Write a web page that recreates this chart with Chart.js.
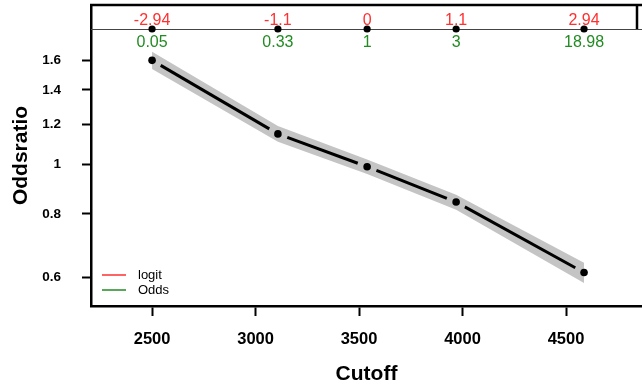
<!DOCTYPE html>
<html>
<head>
<meta charset="utf-8">
<script src="https://cdn.jsdelivr.net/npm/chart.js@4/dist/chart.umd.min.js"></script>
<style>
    html, body { margin: 0; padding: 0; background: #fff; }
    #wrap { width: 642px; height: 389px; }
</style>
</head>
<body>
<div id="wrap"><canvas id="or-chart" width="642" height="389"></canvas></div>
<script>
// Données
const cutoffs    = [2500, 3108, 3539, 3969, 4587];
const oddsRatio  = [1.60, 1.148, 0.99, 0.844, 0.614];
const upperBand  = [1.664, 1.190, 1.023, 0.872, 0.642];
const lowerBand  = [1.538, 1.108, 0.958, 0.815, 0.586];
const logitLabels = ['-2.94', '-1.1', '0', '1.1', '2.94'];
const oddsLabels  = ['0.05', '0.33', '1', '3', '18.98'];
const xTicks = [2500, 3000, 3500, 4000, 4500];
const yTicks = [0.6, 0.8, 1, 1.2, 1.4, 1.6];
const legendLabels = ['logit', 'Odds'];

const RED   = '#ff3030';
const GREEN = '#228b22';
const BAND  = '#c4c4c4';
const FONT  = "'Liberation Sans', Arial, Helvetica, sans-serif";

Chart.defaults.font.family = FONT;
Chart.defaults.color = '#000';

const toXY = (vals) => vals.map((v, i) => ({ x: cutoffs[i], y: v }));

/**
 * Cadre, ligne brisée avec trous (type "b"), bandeau logit/odds et légende.
 */
const decor = {
    id: 'decor',
    afterDatasetsDraw(chart) {
        const { ctx } = chart;
        const pts = chart.getDatasetMeta(2).data;
        const gap = 10;
        ctx.save();
        ctx.strokeStyle = '#000';
        ctx.lineWidth = 3;
        ctx.lineCap = 'butt';
        for (let i = 0; i < pts.length - 1; i++) {
            const p = pts[i], q = pts[i + 1];
            const dx = q.x - p.x, dy = q.y - p.y;
            const len = Math.hypot(dx, dy);
            const ux = dx / len, uy = dy / len;
            ctx.beginPath();
            ctx.moveTo(p.x + ux * gap, p.y + uy * gap);
            ctx.lineTo(q.x - ux * gap, q.y - uy * gap);
            ctx.stroke();
        }
        ctx.restore();
    },
    afterDraw(chart) {
        const { ctx, chartArea: a, scales: { x } } = chart;
        const W = chart.width;
        const stripY = a.top + 24;
        ctx.save();

        // cadre haut
        ctx.strokeStyle = '#000';
        ctx.lineWidth = 2.5;
        ctx.beginPath();
        ctx.moveTo(a.left - 1, a.top);
        ctx.lineTo(W, a.top);
        ctx.moveTo(W - 5, a.top);
        ctx.lineTo(W - 5, stripY);
        ctx.stroke();

        // bandeau
        ctx.strokeStyle = '#444';
        ctx.lineWidth = 1;
        ctx.beginPath();
        ctx.moveTo(a.left, stripY + 0.5);
        ctx.lineTo(W, stripY + 0.5);
        ctx.stroke();

        ctx.font = '16px ' + FONT;
        ctx.textAlign = 'center';
        ctx.textBaseline = 'alphabetic';
        cutoffs.forEach((c, i) => {
            const px = x.getPixelForValue(c);
            ctx.fillStyle = '#000';
            ctx.beginPath();
            ctx.arc(px, stripY, 3.6, 0, Math.PI * 2);
            ctx.fill();
            ctx.fillStyle = RED;
            ctx.fillText(logitLabels[i], px, stripY - 4);
            ctx.fillStyle = GREEN;
            ctx.fillText(oddsLabels[i], px, stripY + 18);
        });

        // légende
        const colors = [RED, GREEN];
        ctx.font = '13px ' + FONT;
        ctx.textAlign = 'left';
        ctx.textBaseline = 'middle';
        legendLabels.forEach((lab, i) => {
            const ly = a.bottom - 31 + i * 15;
            ctx.strokeStyle = colors[i];
            ctx.lineWidth = 1.5;
            ctx.beginPath();
            ctx.moveTo(a.left + 11, ly);
            ctx.lineTo(a.left + 35, ly);
            ctx.stroke();
            ctx.fillStyle = '#000';
            ctx.fillText(lab, a.left + 47, ly);
        });
        ctx.restore();
    },
};

const canvas = document.getElementById('or-chart');
new Chart(canvas.getContext('2d'), {
    type: 'line',
    data: {
        datasets: [
            {
                label: 'lower',
                data: toXY(lowerBand),
                borderWidth: 0,
                pointRadius: 0,
                fill: false,
                order: 3,
            },
            {
                label: 'upper',
                data: toXY(upperBand),
                borderWidth: 0,
                pointRadius: 0,
                backgroundColor: BAND,
                fill: '-1',
                order: 2,
            },
            {
                label: 'Oddsratio',
                data: toXY(oddsRatio),
                showLine: false,
                pointRadius: 3.8,
                pointHoverRadius: 3.8,
                pointBackgroundColor: '#000',
                pointBorderWidth: 0,
                order: 1,
            },
        ],
    },
    options: {
        responsive: false,
        animation: false,
        devicePixelRatio: 1,
        layout: { autoPadding: false, padding: { top: 5, right: 0, bottom: 0, left: 0 } },
        plugins: {
            legend: { display: false },
            tooltip: { enabled: false },
        },
        scales: {
            x: {
                type: 'linear',
                min: 2205,
                max: 4867,
                afterBuildTicks: (s) => { s.ticks = xTicks.map((v) => ({ value: v })); },
                afterFit: (s) => { s.height = 83; s.paddingLeft = 0; s.paddingRight = 0; },
                border: { color: '#000', width: 2.5 },
                grid: { drawOnChartArea: false, tickLength: 10, tickColor: '#000', tickWidth: 2 },
                ticks: {
                    padding: 14,
                    maxRotation: 0,
                    font: { size: 16.5, weight: 'bold' },
                    callback: (v) => String(v),
                },
                title: {
                    display: true,
                    text: 'Cutoff',
                    font: { size: 21, weight: 'bold' },
                    padding: { top: 0, bottom: 2 },
                },
            },
            y: {
                type: 'logarithmic',
                min: 0.528,
                max: 2.054,
                afterBuildTicks: (s) => { s.ticks = yTicks.map((v) => ({ value: v })); },
                afterFit: (s) => { s.width = 91; s.paddingTop = 0; s.paddingBottom = 0; },
                border: { color: '#000', width: 2.5 },
                grid: { drawOnChartArea: false, tickLength: 9, tickColor: '#000', tickWidth: 2 },
                ticks: {
                    padding: 21,
                    font: { size: 13.5, weight: 'bold' },
                    callback: (v) => String(v),
                },
                title: {
                    display: true,
                    text: 'Oddsratio',
                    font: { size: 21, weight: 'bold' },
                    padding: { top: 9, bottom: 0 },
                },
            },
        },
    },
    plugins: [decor],
});
</script>
</body>
</html>
